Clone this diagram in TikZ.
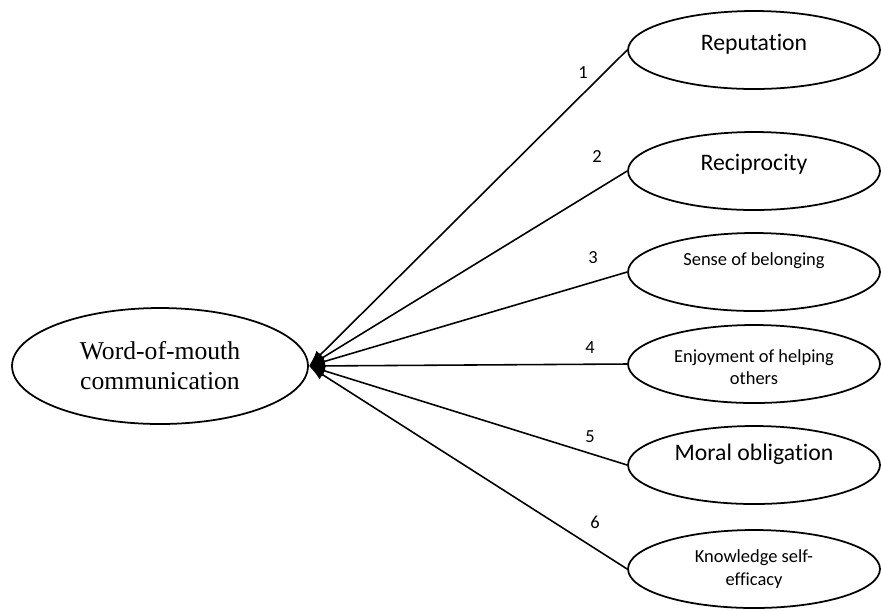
\documentclass[tikz,border=0pt]{standalone}
\usepackage{fontspec}
\setmainfont[Ligatures=NoCommon]{Carlito}
\newfontfamily\serifword{Liberation Serif}
\usetikzlibrary{positioning, shapes.geometric, arrows.meta}

\begin{document}
\begin{tikzpicture}[x=0.02cm, y=-0.02cm]
		% Styles
		\tikzstyle{oval} = [ellipse, draw, line width=1pt, inner sep=0pt,
		minimum width=5.04cm, minimum height=1.56cm]
		\tikzstyle{bigoval} = [ellipse, draw, line width=1pt, inner sep=0pt,
		minimum width=5.92cm, minimum height=2.32cm]
		\tikzstyle{bigtext} = [font=\fontsize{13.5}{16}\selectfont, align=center]
		\tikzstyle{smalltext} = [font=\fontsize{10.5}{12.6}\selectfont, align=center]
		\tikzstyle{num} = [font=\fontsize{10.5}{12}\selectfont, inner sep=0pt]
		\tikzstyle{line} = [draw, line width=0.9pt, -{Latex[length=0.32cm, width=0.22cm]}]
		
		\useasboundingbox (0,0) rectangle (881,610);
		
		% Nodes
		\node [bigoval] (wom) at (160,366) {};
		\node [align=center, font=\serifword\fontsize{14.6}{17}\selectfont] (womtext) at (160,366)
		{Word-of-mouth\\communication};
		\coordinate (hub) at (309,366);
		
		\node [oval] (rep) at (754,50) {};
		\node [bigtext] (reptext) at (754,44) {Reputation};
		\node [oval] (rec) at (754,171) {};
		\node [bigtext] (rectext) at (754,164) {Reciprocity};
		\node [oval] (sob) at (754,272) {};
		\node [smalltext] (sobtext) at (754,261) {Sense of belonging};
		\node [oval] (enj) at (754,364) {};
		\node [smalltext] (enjtext) at (754,367) {Enjoyment of helping\\others};
		\node [oval] (mor) at (754,465) {};
		\node [bigtext] (mortext) at (754,454) {Moral obligation};
		\node [oval] (kno) at (754,569) {};
		\node [smalltext] (knotext) at (754,569) {Knowledge self-\\efficacy};
		
		% Numbers
		\node [num] (num1) at (583,73) {1};
		\node [num] (num2) at (597,157) {2};
		\node [num] (num3) at (593,258) {3};
		\node [num] (num4) at (590,348) {4};
		\node [num] (num5) at (590,437) {5};
		\node [num] (num6) at (595,522) {6};
		
		% Connections
		\path [line] (rep.west) -- (hub);
		\path [line] (rec.west) -- (hub);
		\path [line] (sob.west) -- (hub);
		\path [line] (enj.west) -- (hub);
		\path [line] (mor.west) -- (hub);
		\path [line] (kno.west) -- (hub);
	\end{tikzpicture}
\end{document}
